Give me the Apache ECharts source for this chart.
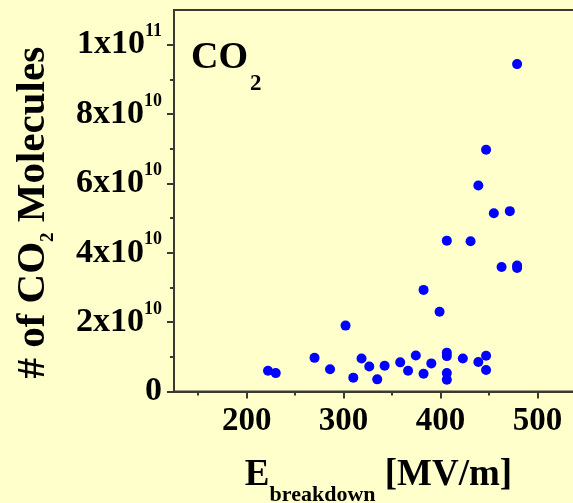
<!DOCTYPE html>
<html>
<head>
<meta charset="utf-8">
<script src="https://cdn.jsdelivr.net/npm/echarts@6/dist/echarts.min.js"></script>
<style>
  html, body { margin: 0; padding: 0; background: #FFFFCC; }
  #chart { width: 573px; height: 503px; }
</style>
</head>
<body>
<div id="chart"></div>
<script>
// Breakdown field (MV/m) for each measured event
const breakdownField = [
  222, 230, 270, 286, 302, 310, 318.5, 326.5, 334.7, 342.3,
  358.4, 366.5, 374.5, 382.5, 382.5, 390.5, 399, 406.5, 406.5, 406.5,
  406.5, 406.5, 423, 431, 439, 439, 447, 447, 447, 455,
  463, 471.5, 479, 479, 479
];
// Number of CO2 molecules released in the same event
const co2Molecules = [
  6.0e9, 5.3e9, 9.7e9, 6.4e9, 1.90e10, 4.0e9, 9.5e9, 7.2e9, 3.5e9, 7.4e9,
  8.4e9, 6.0e9, 1.04e10, 2.93e10, 5.1e9, 8.1e9, 2.30e10, 4.35e10, 1.12e10, 1.02e10,
  5.3e9, 3.4e9, 9.5e9, 4.33e10, 5.94e10, 8.5e9, 6.97e10, 1.03e10, 6.2e9, 5.14e10,
  3.59e10, 5.20e10, 9.44e10, 3.63e10, 3.56e10
];

const xMajorTicks = [200, 300, 400, 500];
const xMinorTicks = [150, 250, 350, 450];
const yMajorTicks = [0, 2e10, 4e10, 6e10, 8e10, 1e11];
const yMinorTicks = [1e10, 3e10, 5e10, 7e10, 9e10];
const yTickMantissa = ['0', '2x10', '4x10', '6x10', '8x10', '1x10'];
const yTickExponent = ['', '10', '10', '10', '10', '11'];

const points = breakdownField.map((x, i) => [x, co2Molecules[i]]);

const FONT = '"Liberation Serif", "Times New Roman", serif';
const AXIS_COLOR = '#3a3a30';
const X_MIN = 125, X_MAX = 547, Y_MIN = 0, Y_MAX = 1.1e11;
const gridBox = { left: 174, top: 10, right: -10, bottom: 111.5, outerBoundsMode: 'none', containLabel: false };

const chart = echarts.init(document.getElementById('chart'), null, { renderer: 'canvas' });

chart.setOption({
  backgroundColor: '#FFFFCC',
  animation: false,
  grid: [
    Object.assign({ show: true, borderColor: AXIS_COLOR, borderWidth: 2, backgroundColor: 'transparent' }, gridBox),
    Object.assign({ show: false }, gridBox)
  ],
  xAxis: [
    {
      type: 'value', gridIndex: 0, min: X_MIN, max: X_MAX, position: 'bottom',
      axisLine: { show: true, onZero: false, lineStyle: { color: AXIS_COLOR, width: 2 } },
      axisTick: { show: true, customValues: xMajorTicks, length: 7, lineStyle: { color: AXIS_COLOR, width: 2 } },
      axisLabel: {
        customValues: xMajorTicks, margin: 13, color: '#000',
        fontFamily: FONT, fontWeight: 'bold', fontSize: 33
      },
      splitLine: { show: false },
      name: '{m|E}{s|breakdown}{m| [MV/m]}',
      nameLocation: 'middle', nameGap: 53,
      nameTextStyle: {
        rich: {
          m: { fontFamily: FONT, fontWeight: 'bold', fontSize: 37, color: '#000' },
          s: { fontFamily: FONT, fontWeight: 'bold', fontSize: 22, color: '#000', padding: [40, 0, 0, 0] }
        }
      }
    },
    {
      type: 'value', gridIndex: 1, min: X_MIN, max: X_MAX, position: 'bottom',
      axisLine: { show: false, onZero: false },
      axisTick: { show: true, customValues: xMinorTicks, length: 4, lineStyle: { color: AXIS_COLOR, width: 2 } },
      axisLabel: { show: false },
      splitLine: { show: false }
    }
  ],
  yAxis: [
    {
      type: 'value', gridIndex: 0, min: Y_MIN, max: Y_MAX, position: 'left',
      axisLine: { show: true, onZero: false, lineStyle: { color: AXIS_COLOR, width: 2 } },
      axisTick: { show: true, customValues: yMajorTicks, length: 7, lineStyle: { color: AXIS_COLOR, width: 2 } },
      axisLabel: {
        customValues: yMajorTicks, margin: 12,
        formatter: (v) => {
          const i = yMajorTicks.indexOf(v);
          const exp = yTickExponent[i];
          return '{m|' + yTickMantissa[i] + '}' + (exp ? '{s|' + exp + '}' : '');
        },
        rich: {
          m: { fontFamily: FONT, fontWeight: 'bold', fontSize: 34, color: '#000' },
          s: { fontFamily: FONT, fontWeight: 'bold', fontSize: 18, color: '#000', padding: [0, 0, 26, 0] }
        }
      },
      splitLine: { show: false },
      name: '{m|# of CO}{s|2}{m| Molecules}',
      nameLocation: 'middle', nameRotate: 90, nameGap: 116,
      nameTextStyle: {
        padding: [0, 24, 0, 0],
        rich: {
          m: { fontFamily: FONT, fontWeight: 'bold', fontSize: 41, color: '#000' },
          s: { fontFamily: FONT, fontWeight: 'bold', fontSize: 19, color: '#000', padding: [30, 0, 0, 0] }
        }
      }
    },
    {
      type: 'value', gridIndex: 1, min: Y_MIN, max: Y_MAX, position: 'left',
      axisLine: { show: false, onZero: false },
      axisTick: { show: true, customValues: yMinorTicks, length: 4, lineStyle: { color: AXIS_COLOR, width: 2 } },
      axisLabel: { show: false },
      splitLine: { show: false }
    }
  ],
  graphic: [
    {
      type: 'text', left: 191, top: 39, z: 10,
      style: {
        text: '{m|CO}{s|2}',
        rich: {
          m: { fontFamily: FONT, fontWeight: 'bold', fontSize: 38, fill: '#000' },
          s: { fontFamily: FONT, fontWeight: 'bold', fontSize: 23, fill: '#000', padding: [52, 0, 0, 2] }
        }
      }
    }
  ],
  series: [
    {
      type: 'scatter', xAxisIndex: 0, yAxisIndex: 0,
      data: points, symbol: 'circle', symbolSize: 10,
      itemStyle: { color: '#0000FF', opacity: 1 }
    }
  ]
});
</script>
</body>
</html>
